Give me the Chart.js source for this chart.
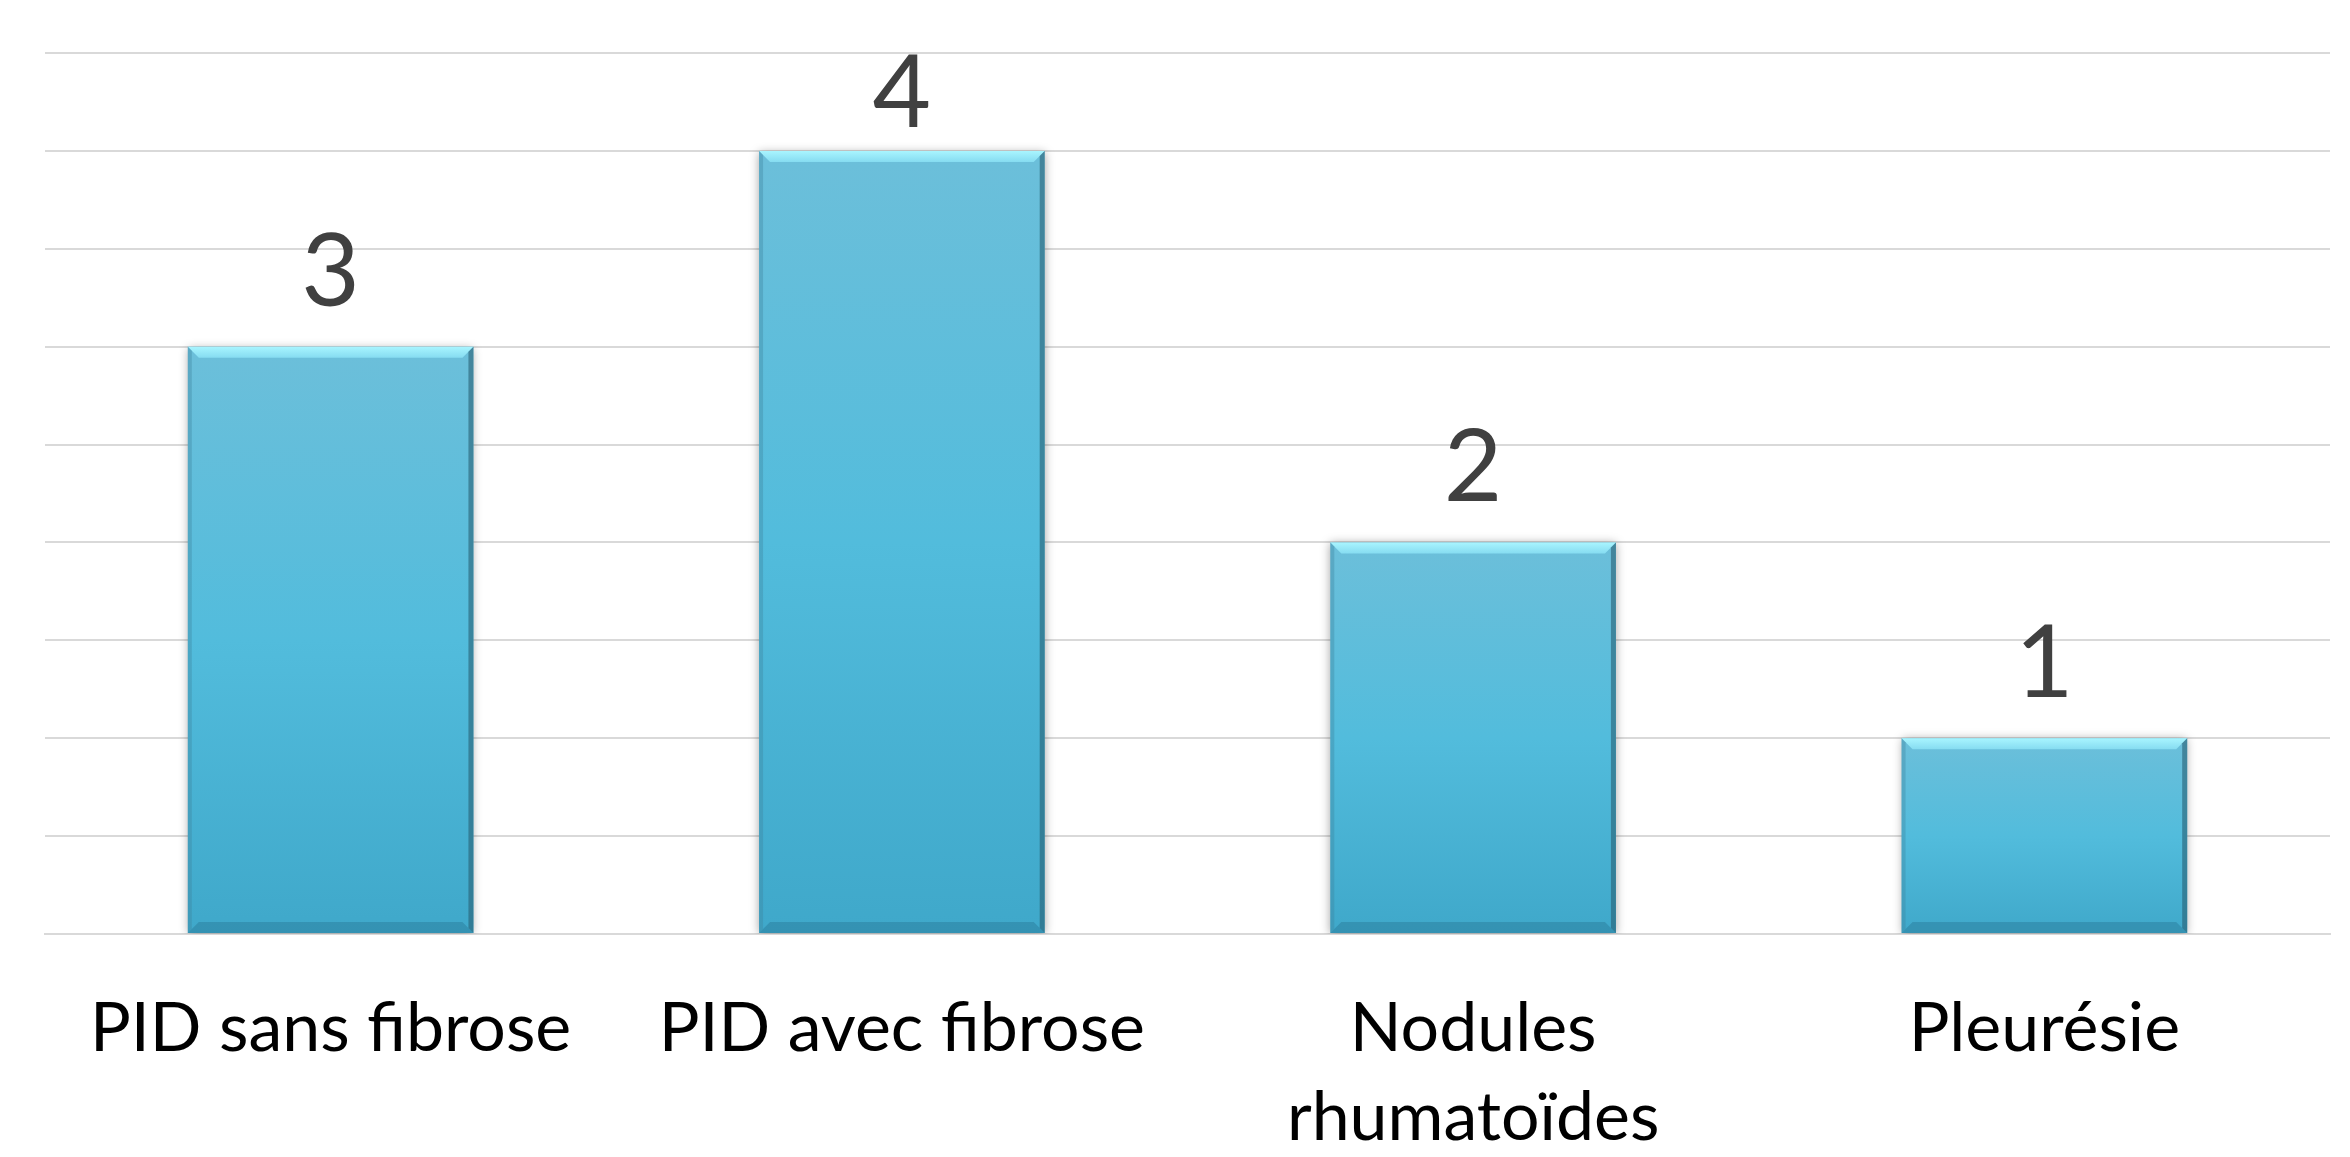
<!DOCTYPE html>
<html>
<head>
<meta charset="utf-8">
<script src="https://cdn.jsdelivr.net/npm/chart.js@4.4.1/dist/chart.umd.min.js"></script>
<style>
  html, body { margin: 0; padding: 0; background: #fff; }
  #wrap { width: 2350px; height: 1157px; }
</style>
</head>
<body>
<div id="wrap"><canvas id="chart" width="2350" height="1157"></canvas></div>
<script>
// data
const categories = ["PID sans fibrose", "PID avec fibrose", ["Nodules", "rhumatoïdes"], "Pleurésie"];
const counts = [3, 4, 2, 1];
const axisMax = 4.5;
const gridStep = 0.5;

// per-bar vertical gradient, light at the top and darker at the base
function barFill(ctx) {
    const chart = ctx.chart;
    if (!chart.chartArea || !chart.scales.y) return "#52b6d6";
    const y = chart.scales.y;
    const top = y.getPixelForValue(ctx.raw);
    const bottom = y.getPixelForValue(0);
    const g = chart.ctx.createLinearGradient(0, top, 0, bottom);
    g.addColorStop(0, "#6cbfda");
    g.addColorStop(0.5, "#52bcdc");
    g.addColorStop(1, "#3fa8ca");
    return g;
}

// soft shadow behind the bars
const barShadow = {
    id: "barShadow",
    beforeDatasetDraw(chart) {
        const c = chart.ctx;
        c.save();
        c.shadowColor = "rgba(0,0,0,0.35)";
        c.shadowBlur = 9;
        c.shadowOffsetX = 0;
        c.shadowOffsetY = 1;
    },
    afterDatasetDraw(chart) {
        chart.ctx.restore();
    }
};

// bevel edges and value labels
const bevelAndLabels = {
    id: "bevelAndLabels",
    afterDatasetsDraw(chart) {
        const c = chart.ctx;
        const meta = chart.getDatasetMeta(0);
        meta.data.forEach((bar, i) => {
            const left = bar.x - bar.width / 2;
            const right = bar.x + bar.width / 2;
            const top = bar.y;
            const bottom = bar.base;
            const b = 11;

            c.save();
            // top highlight
            let g = c.createLinearGradient(0, top, 0, top + b);
            g.addColorStop(0, "#a9f5ff");
            g.addColorStop(1, "#86dcf1");
            c.fillStyle = g;
            c.beginPath();
            c.moveTo(left, top);
            c.lineTo(right, top);
            c.lineTo(right - b, top + b);
            c.lineTo(left + b, top + b);
            c.closePath();
            c.fill();

            // bottom darker lip
            c.fillStyle = "rgba(40,120,150,0.45)";
            c.beginPath();
            c.moveTo(left, bottom);
            c.lineTo(right, bottom);
            c.lineTo(right - b, bottom - b);
            c.lineTo(left + b, bottom - b);
            c.closePath();
            c.fill();

            // left edge
            c.fillStyle = "rgba(60,130,155,0.35)";
            c.beginPath();
            c.moveTo(left, top);
            c.lineTo(left + 4, top + 4);
            c.lineTo(left + 4, bottom - 4);
            c.lineTo(left, bottom);
            c.closePath();
            c.fill();

            // right edge
            c.fillStyle = "rgba(40,95,115,0.6)";
            c.beginPath();
            c.moveTo(right, top);
            c.lineTo(right - 5, top + 5);
            c.lineTo(right - 5, bottom - 5);
            c.lineTo(right, bottom);
            c.closePath();
            c.fill();

            // value label, kept inside the plot area like the original
            c.fillStyle = "#404040";
            c.font = "101px Lato";
            c.textAlign = "center";
            c.textBaseline = "alphabetic";
            const baseline = Math.max(top - 41, chart.chartArea.top + 74);
            c.fillText(String(counts[i]), bar.x, baseline);
            c.restore();
        });
    }
};

new Chart(document.getElementById("chart"), {
    type: "bar",
    data: {
        labels: categories,
        datasets: [{
            data: counts,
            backgroundColor: barFill,
            borderWidth: 0,
            barPercentage: 0.5,
            categoryPercentage: 1.0
        }]
    },
    options: {
        responsive: false,
        animation: false,
        layout: {
            padding: { top: 53, left: 45, right: 20, bottom: 0 }
        },
        plugins: {
            legend: { display: false },
            tooltip: { enabled: false }
        },
        scales: {
            x: {
                grid: { display: false },
                border: { display: true, color: "#d9d9d9", width: 2 },
                ticks: {
                    color: "#000000",
                    font: { family: "Lato", size: 68, lineHeight: 1.3 },
                    padding: 43,
                    maxRotation: 0,
                    autoSkip: false
                },
                afterFit(scale) { scale.height = 223; }
            },
            y: {
                min: 0,
                max: axisMax,
                ticks: { display: false, stepSize: gridStep },
                grid: { color: "#d9d9d9", lineWidth: 2, drawTicks: false },
                border: { display: false },
                afterFit(scale) { scale.width = 0; }
            }
        }
    },
    plugins: [barShadow, bevelAndLabels]
});
</script>
</body>
</html>
